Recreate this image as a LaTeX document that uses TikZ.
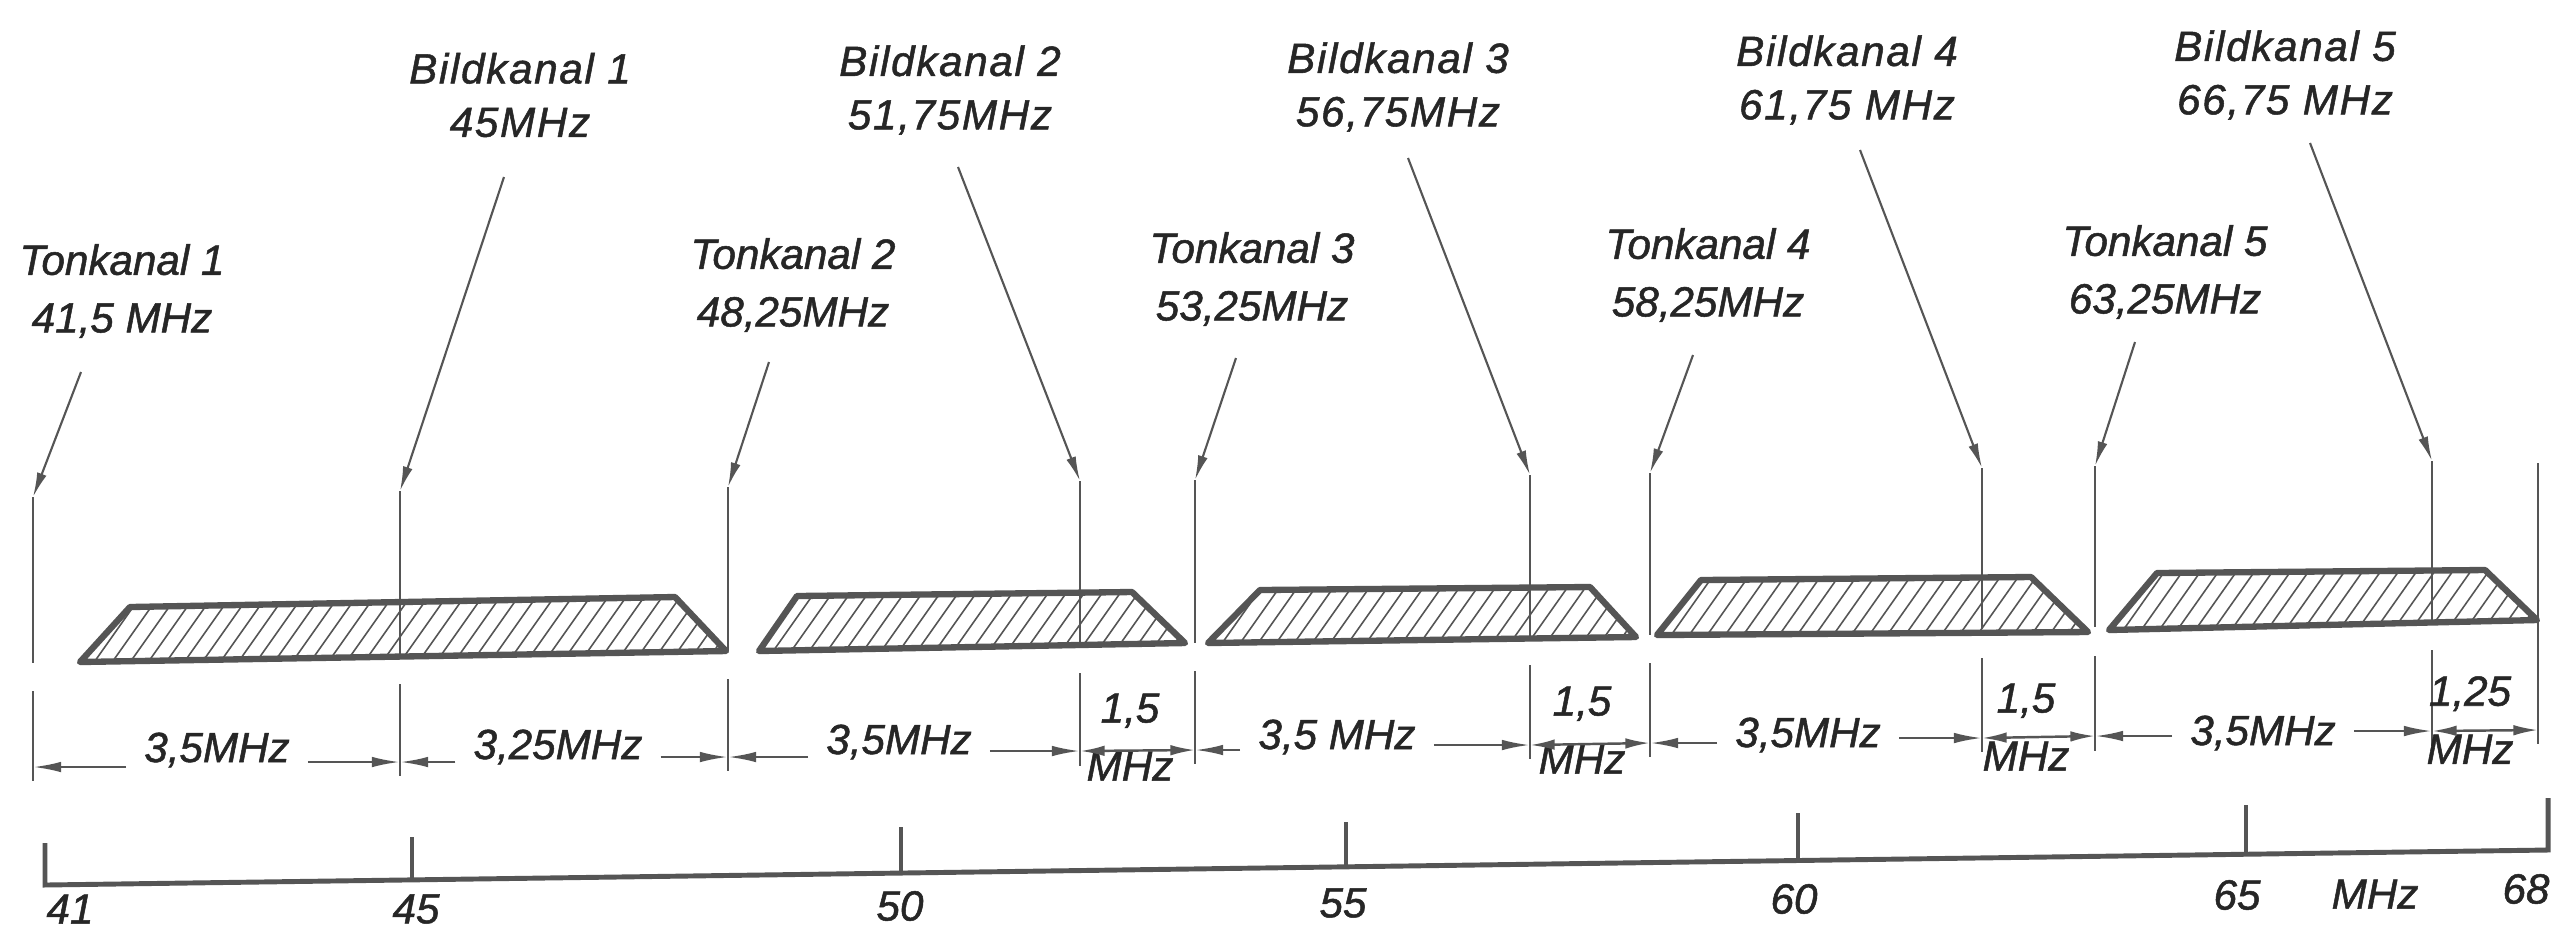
\documentclass[tikz,border=0pt]{standalone}
\usepackage{fontspec}
\setmainfont{Liberation Sans}[FakeBold=1.2]
\usetikzlibrary{arrows.meta,calc}
\definecolor{ink}{HTML}{555555}
\definecolor{txt}{HTML}{262626}
\begin{document}
\begin{tikzpicture}[x=0.01cm,y=-0.01cm,
  lbl/.style={font=\itshape\fontsize{12}{16.4}\selectfont, text=txt, align=center, inner sep=0pt},
  bild/.style={lbl, font=\itshape\fontsize{12}{15.2}\selectfont\addfontfeatures{LetterSpace=4}},
  dtxt/.style={lbl, inner xsep=5pt},
  stxt/.style={lbl, font=\itshape\fontsize{12}{16.5}\selectfont},
  lead/.style={draw=ink, line width=0.6pt, -{Latex[length=7pt,width=2.8pt]}},
  vline/.style={draw=ink, line width=0.7pt},
  trap/.style={draw=ink, line width=1.8pt, line join=round},
  hatch/.style={draw=ink, line width=0.45pt},
  dim/.style={draw=ink, line width=0.7pt, -{Latex[length=8pt,width=3pt]}},
  dimb/.style={draw=ink, line width=0.7pt, {Latex[length=7pt,width=3pt]}-{Latex[length=7pt,width=3pt]}},
  axisl/.style={draw=ink, line width=1.4pt},
  tickl/.style={draw=ink, line width=1.2pt}
]
\path[use as bounding box, fill=white] (0,0) rectangle (2552,932);

% ---------- labels ----------
\node[lbl]  (LT1) at (122,291)  {Tonkanal 1\\41,5 MHz};
\node[bild] (LB1) at (520,95)   {Bildkanal 1\\45MHz};
\node[lbl]  (LT2) at (793,285)  {Tonkanal 2\\48,25MHz};
\node[bild] (LB2) at (950,90)   {Bildkanal 2\\51,75MHz};
\node[lbl]  (LT3) at (1252,279) {Tonkanal 3\\53,25MHz};
\node[bild] (LB3) at (1398,87)  {Bildkanal 3\\56,75MHz};
\node[lbl]  (LT4) at (1708,275) {Tonkanal 4\\58,25MHz};
\node[bild] (LB4) at (1847,80)  {Bildkanal 4\\61,75 MHz};
\node[lbl]  (LT5) at (2165,272) {Tonkanal 5\\63,25MHz};
\node[bild] (LB5) at (2285,75)  {Bildkanal 5\\66,75 MHz};

% ---------- coordinates of the carrier lines ----------
\foreach \nm/\sx/\sy/\xx/\ty/\by/\ly/\ey in {
  T1/81/372/33/497/663/691/781,
  B1/504/177/400/491/656/684/776,
  T2/769/362/728/487/651/679/771,
  B2/958/167/1080/481/645/673/766,
  T3/1236/358/1195/480/643/671/764,
  B3/1408/158/1530/475/637/665/759,
  T4/1693/355/1650/473/635/663/757,
  B4/1860/150/1982/468/629/658/752,
  T5/2135/342/2095/466/627/656/751,
  B5/2310/143/2432/461/622/650/746}{
  \coordinate (\nm s) at (\sx,\sy);
  \coordinate (\nm t) at (\xx,\ty);
  \coordinate (\nm b) at (\xx,\by);
  \coordinate (\nm l) at (\xx,\ly);
  \coordinate (\nm e) at (\xx,\ey);
}
\coordinate (Et) at (2538,463);
\coordinate (Ee) at (2538,744);

% ---------- trapezoids with hatching ----------
\foreach \xa/\ya/\xb/\yb/\xc/\yc/\xd/\yd in {
  80/662/130/607/675/597/726/651,
  759/651/797/596/1132/592/1185/643,
  1208/643/1260/590/1590/587/1636/637,
  1657/635/1701/580/2031/577/2088/632,
  2109/630/2157/573/2485/570/2537/620}{
  \begin{scope}
    \clip (\xa,\ya) -- (\xb,\yb) -- (\xc,\yc) -- (\xd,\yd) -- cycle;
    \foreach \k in {0,18,...,720}
      \draw[hatch] (\xa+\k-80,\ya+6) -- ++(72,-102);
  \end{scope}
  \draw[trap] (\xa,\ya) -- (\xb,\yb) -- (\xc,\yc) -- (\xd,\yd) -- cycle;
}

% ---------- carrier lines and leaders ----------
\foreach \nm in {T1,B1,T2,B2,T3,B3,T4,B4,T5,B5}{
  \draw[lead] (\nm s) -- (\nm t);
  \draw[vline] (\nm t) -- (\nm b);
  \draw[vline] (\nm l) -- (\nm e);
}
\draw[vline] (Et) -- (Ee);

% ---------- dimension line ----------
\coordinate (DT1) at (33,767);
\coordinate (DB1) at (400,762);
\coordinate (DT2) at (728,757);
\coordinate (DB2) at (1080,751);
\coordinate (DT3) at (1195,750);
\coordinate (DB3) at (1530,745);
\coordinate (DT4) at (1650,743);
\coordinate (DB4) at (1982,738);
\coordinate (DT5) at (2095,736);
\coordinate (DB5) at (2432,731);
\coordinate (DE)  at (2538,730);

\node[dtxt] (d1) at (217,750)  {3,5MHz};
\node[dtxt] (d2) at (558,747)  {3,25MHz};
\node[dtxt] (d3) at (899,742)  {3,5MHz};
\node[dtxt] (d5) at (1337,737) {3,5 MHz};
\node[dtxt] (d7) at (1808,735) {3,5MHz};
\node[dtxt] (d9) at (2263,733) {3,5MHz};
\node[stxt] (d4) at (1130,737) {1,5\\MHz};
\node[stxt] (d6) at (1582,730) {1,5\\MHz};
\node[stxt] (d8) at (2026,727) {1,5\\MHz};
\node[stxt] (d10) at (2470,720) {1,25\\MHz};

\draw[dim] (d1.west |- DT1) -- (DT1);
\draw[dim] (d1.east |- DB1) -- (DB1);
\draw[dim] (d2.west |- DB1) -- (DB1);
\draw[dim] (d2.east |- DT2) -- (DT2);
\draw[dim] (d3.west |- DT2) -- (DT2);
\draw[dim] (d3.east |- DB2) -- (DB2);
\draw[dimb] (DB2) -- (DT3);
\draw[dim] (d5.west |- DT3) -- (DT3);
\draw[dim] (d5.east |- DB3) -- (DB3);
\draw[dimb] (DB3) -- (DT4);
\draw[dim] (d7.west |- DT4) -- (DT4);
\draw[dim] (d7.east |- DB4) -- (DB4);
\draw[dimb] (DB4) -- (DT5);
\draw[dim] (d9.west |- DT5) -- (DT5);
\draw[dim] (d9.east |- DB5) -- (DB5);
\draw[dimb] (DB5) -- (DE);

% ---------- frequency axis ----------
\coordinate (A41) at (45,885);   \coordinate (A41t) at (45,843);
\coordinate (A45) at (412,880);  \coordinate (A45t) at (412,837);
\coordinate (A50) at (901,873);  \coordinate (A50t) at (901,827);
\coordinate (A55) at (1346,867); \coordinate (A55t) at (1346,822);
\coordinate (A60) at (1798,860); \coordinate (A60t) at (1798,813);
\coordinate (A65) at (2246,854); \coordinate (A65t) at (2246,805);
\coordinate (A68) at (2548,850); \coordinate (A68t) at (2548,798);
\draw[axisl, line join=miter] (A41t) -- (A41) -- (A68) -- (A68t);
\foreach \t in {45,50,55,60,65}
  \draw[tickl] (A\t t) -- (A\t);

\node[lbl] (n41) at (70,909)   {41};
\node[lbl] (n45) at (416,909)  {45};
\node[lbl] (n50) at (900,906)  {50};
\node[lbl] (n55) at (1343,903) {55};
\node[lbl] (n60) at (1794,899) {60};
\node[lbl] (n65) at (2237,895) {65};
\node[lbl] (nMHz) at (2375,894) {MHz};
\node[lbl] (n68) at (2526,889) {68};
\end{tikzpicture}
\end{document}
